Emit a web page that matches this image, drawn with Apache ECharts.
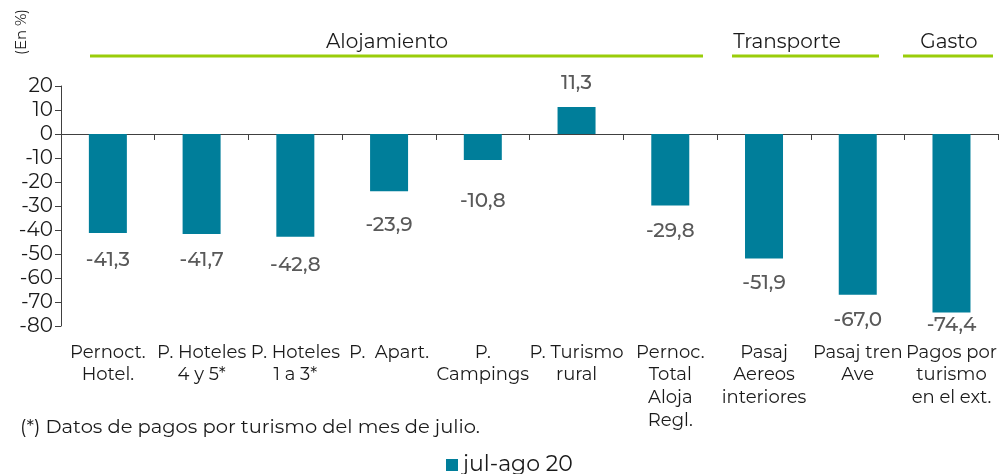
<!DOCTYPE html>
<html lang="es">
<head>
  <meta charset="utf-8" />
  <title>jul-ago 20</title>
  <script src="https://cdn.jsdelivr.net/npm/echarts@6/dist/echarts.min.js"></script>
</head>
<body style="margin:0">
  <div id="main" style="width: 1000px; height: 474px"></div>
  <script>
    let categories = [
      "Pernoct.\nHotel.",
      "P. Hoteles\n4 y 5*",
      "P. Hoteles\n1 a 3*",
      "P.  Apart.",
      "P.\nCampings",
      "P. Turismo\nrural",
      "Pernoc.\nTotal\nAloja\nRegl.",
      "Pasaj\nAereos\ninteriores",
      "Pasaj tren\nAve",
      "Pagos por\nturismo\nen el ext.",
    ];
    let values = [-41.3, -41.7, -42.8, -23.9, -10.8, 11.3, -29.8, -51.9, -67.0, -74.4];
    let seriesName = "jul-ago 20";
    let yTicks = { min: -80, max: 20, interval: 10 };

    // gap between bar end and its value label, as in the original layout
    let labelGap = [17, 16, 18, 24, 31, 14, 16, 15, 15, 3];

    let font = "Montserrat, 'Noto Sans', sans-serif";
    let teal = "#007e9a";
    let green = "#9acd0a";

    function groupHeader(text, cx, x1, x2) {
      return [
        {
          type: "text",
          x: cx,
          y: 42,
          style: {
            text: text,
            font: "20px " + font,
            fill: "#1a1a1a",
            textAlign: "center",
            textVerticalAlign: "middle",
          },
        },
        {
          type: "line",
          shape: { x1: x1, y1: 56, x2: x2, y2: 56 },
          style: { stroke: green, lineWidth: 3 },
        },
      ];
    }

    option = {
      animation: false,
      textStyle: { fontFamily: font },
      grid: { left: 61, right: 1, top: 86, bottom: 148 },
      legend: {
        data: [seriesName],
        bottom: -7,
        left: 441,
        icon: "rect",
        itemWidth: 12,
        itemHeight: 12,
        itemGap: 4,
        textStyle: { fontSize: 22, color: "#1a1a1a", fontFamily: font },
      },
      xAxis: [
        {
          type: "category",
          data: categories,
          position: "bottom",
          axisLine: { show: false, onZero: false },
          axisTick: { show: false },
          axisLabel: {
            interval: 0,
            margin: 15,
            fontSize: 18,
            lineHeight: 22.7,
            color: "#1a1a1a",
            fontFamily: font,
          },
        },
        {
          type: "category",
          data: categories,
          position: "bottom",
          axisLine: { show: true, onZero: true, lineStyle: { color: "#404040", width: 1 } },
          axisTick: { show: true, length: 6, lineStyle: { color: "#404040" } },
          axisLabel: { show: false },
        },
      ],
      yAxis: {
        type: "value",
        min: yTicks.min,
        max: yTicks.max,
        interval: yTicks.interval,
        splitLine: { show: false },
        axisLine: { show: true, lineStyle: { color: "#404040" } },
        axisTick: { show: true, length: 6, lineStyle: { color: "#404040" } },
        axisLabel: { fontSize: 20, color: "#1a1a1a", margin: 8, fontFamily: font },
      },
      series: [
        {
          name: seriesName,
          type: "bar",
          barWidth: 38,
          itemStyle: { color: teal },
          data: values.map(function (v, i) {
            return {
              value: v,
              label: {
                show: true,
                position: v >= 0 ? "top" : "bottom",
                distance: labelGap[i],
                fontSize: 20,
                fontWeight: 500,
                color: "#595959",
                fontFamily: font,
                formatter: function (p) {
                  return p.value.toFixed(1).replace(".", ",");
                },
              },
            };
          }),
        },
      ],
      graphic: [
        {
          type: "text",
          x: 22,
          y: 32,
          rotation: Math.PI / 2,
          style: {
            text: "(En %)",
            font: "15px " + font,
            fill: "#1a1a1a",
            textAlign: "center",
            textVerticalAlign: "middle",
          },
        },
        {
          type: "text",
          left: 20,
          top: 417,
          style: { text: "(*) Datos de pagos por turismo del mes de julio.", font: "19.5px " + font, fill: "#1a1a1a" },
        },
      ]
        .concat(groupHeader("Alojamiento", 387, 90, 703))
        .concat(groupHeader("Transporte", 787, 732, 879))
        .concat(groupHeader("Gasto", 949, 903, 993)),
    };

    chartBar = echarts.init(document.getElementById("main"));
    chartBar.setOption(option);
  </script>
</body>
</html>
